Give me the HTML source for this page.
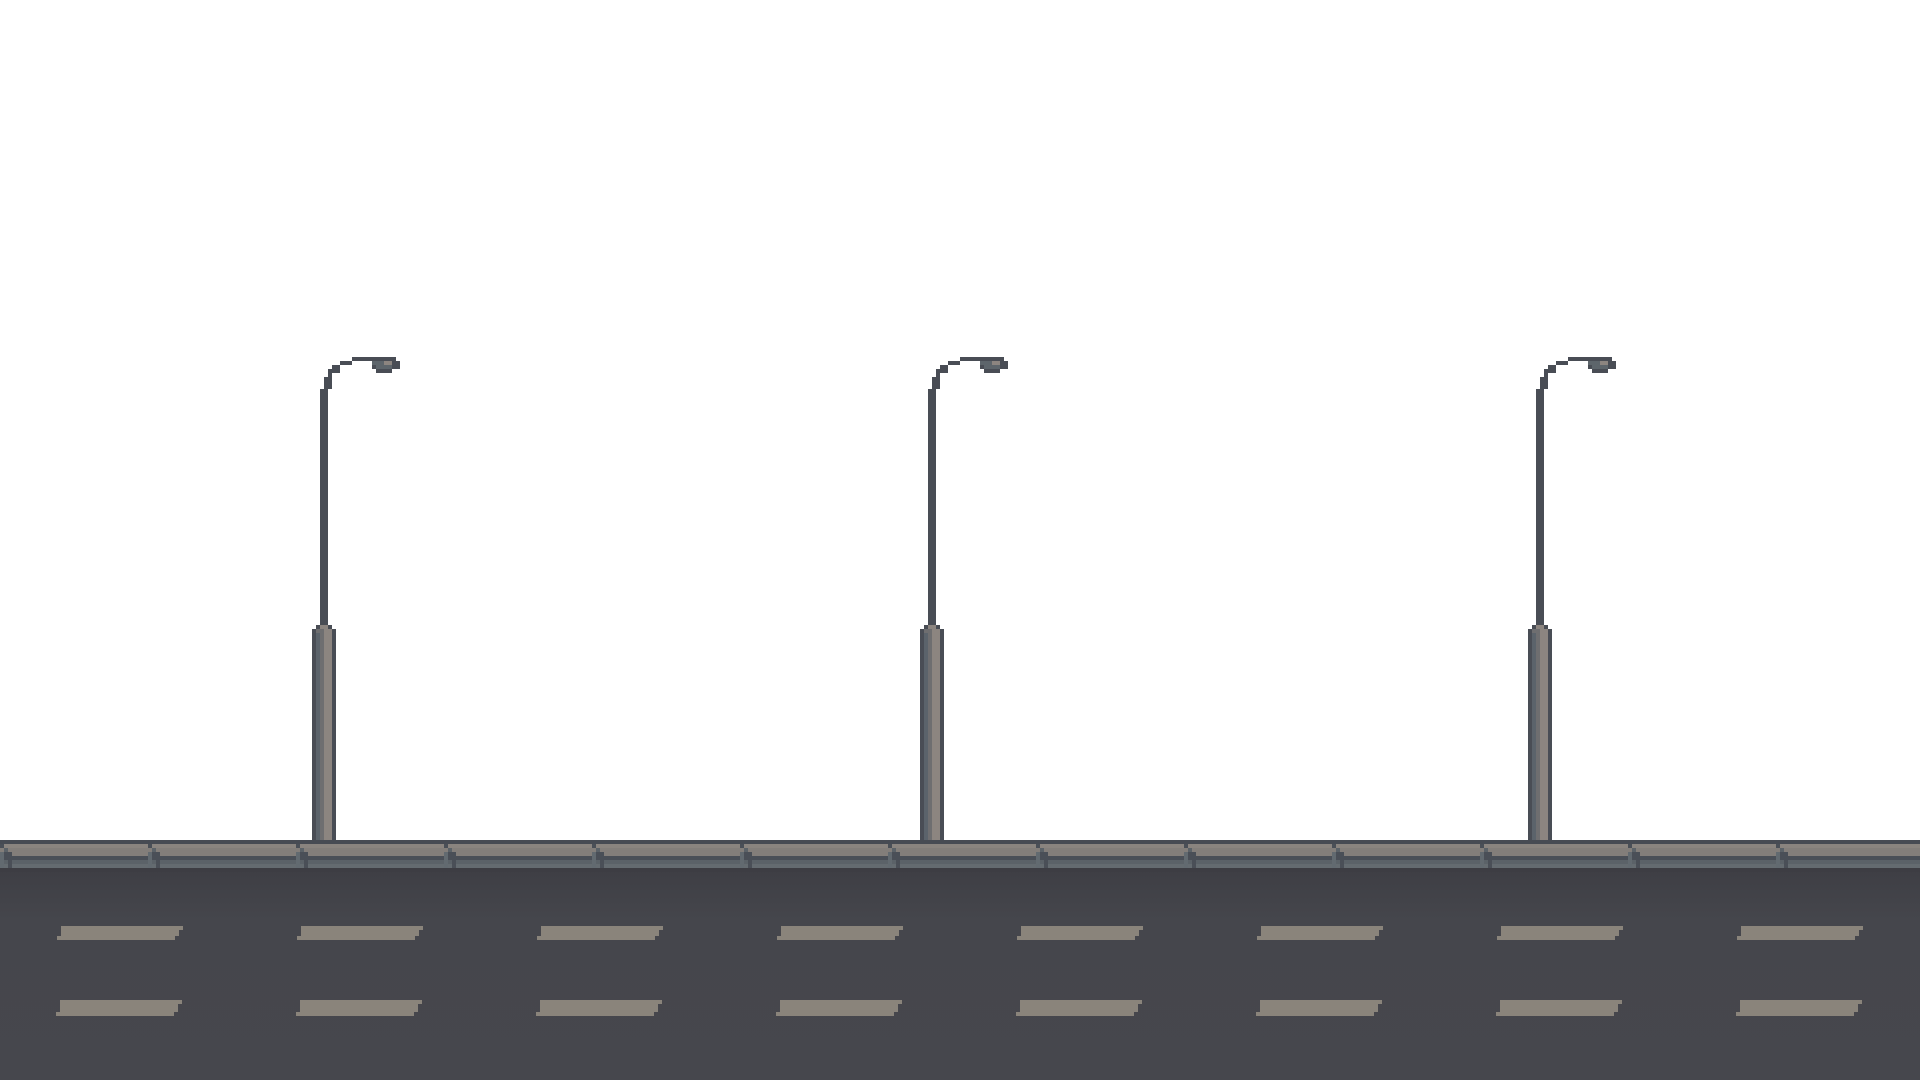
<!DOCTYPE html>
<html><head><meta charset="utf-8"><title>Street scene</title>
<style>
html,body{margin:0;padding:0;background:#fff;overflow:hidden}
svg{display:block}
</style></head>
<body>
<svg id="scene" width="1920" height="1080" viewBox="0 0 1920 1080" shape-rendering="crispEdges" xmlns="http://www.w3.org/2000/svg">
  <defs>
    <linearGradient id="road" x1="0" y1="0" x2="0" y2="1">
      <stop offset="0" stop-color="#3e3e44"/>
      <stop offset="0.25" stop-color="#45464c"/>
      <stop offset="1" stop-color="#46474d"/>
    </linearGradient>
  </defs>
  <rect x="0" y="0" width="1920" height="840" fill="#ffffff"/>
  <g id="road-group"></g>
  <g id="curb-group"></g>
  <g id="lamps"></g>
  <g id="dashes"></g>
</svg>
<script>
const lampPositions = [323, 931, 1539];
const curbJoints = [0, 148, 296, 444, 592, 740, 888, 1036, 1184, 1332, 1480, 1628, 1776];
const dashRowTop = [0, 1, 2, 3, 4, 5, 6, 7];
const dashRowBottom = [0, 1, 2, 3, 4, 5, 6, 7];

const NS = "http://www.w3.org/2000/svg";
function r(parent, x, y, w, h, fill) {
  const e = document.createElementNS(NS, "rect");
  e.setAttribute("x", x); e.setAttribute("y", y);
  e.setAttribute("width", w); e.setAttribute("height", h);
  e.setAttribute("fill", fill);
  parent.appendChild(e);
  return e;
}

// road
const roadG = document.getElementById("road-group");
const roadRect = r(roadG, 0, 868, 1920, 212, "url(#road)");



// curb
const curbG = document.getElementById("curb-group");
r(curbG, 0, 840, 1920, 4, "#474b53");
r(curbG, 0, 844, 1920, 12, "#837e7a");
r(curbG, 0, 844, 1920, 4, "#8a847f");
r(curbG, 0, 856, 1920, 4, "#4a4f57");
r(curbG, 0, 860, 1920, 4, "#5b6268");
r(curbG, 0, 864, 1920, 4, "#646b70");
r(curbG, 0, 868, 1920, 4, "#3d3d43");
curbJoints.forEach(function (jx) {
  const g = document.createElementNS(NS, "g");
  
  
  r(g, jx, 844, 4, 4, "#4a4f57");
  r(g, jx + 4, 848, 4, 4, "#5b6268");
  r(g, jx + 4, 852, 4, 4, "#4a4f57");
  r(g, jx + 8, 852, 4, 16, "#4a4f57");
  r(g, jx, 852, 4, 16, "#626a70");
  curbG.appendChild(g);
});

// lamps
const lampsG = document.getElementById("lamps");
lampPositions.forEach(function (cx) {
  const g = document.createElementNS(NS, "g");
  
  
  const px = cx - 3;
  const dark = "#494d55";
  r(g, px, 389, 8, 240, dark);
  r(g, px + 4, 377, 8, 12, dark);
  r(g, px + 8, 369, 4, 8, dark);
  r(g, px + 12, 365, 8, 8, dark);
  r(g, px + 20, 361, 12, 4, dark);
  r(g, px + 32, 357, 44, 4, dark);
  const hx = px + 52;
  r(g, hx, 361, 28, 4, dark);
  r(g, hx, 361, 20, 4, "#5d656b");
  r(g, hx + 12, 361, 8, 4, "#8c8580");
  r(g, hx, 365, 28, 4, dark);
  r(g, hx + 4, 365, 16, 4, "#5d656b");
  r(g, hx + 4, 369, 16, 4, dark);
  const bx = px - 8;
  r(g, bx + 4, 625, 16, 4, dark);
  r(g, bx + 8, 625, 8, 4, "#8c8580");
  r(g, bx, 629, 24, 211, dark);
  r(g, bx + 4, 633, 4, 207, "#5b636b");
  r(g, bx + 8, 629, 4, 211, "#6e6e70");
  r(g, bx + 12, 629, 8, 211, "#8c8580");
  r(g, bx + 4, 629, 4, 4, "#6e6e70");
  lampsG.appendChild(g);
});

// lane dashes (slanted parallelogram, stepped)
const dashesG = document.getElementById("dashes");
function dash(x, y, h) {
  const g = document.createElementNS(NS, "g");
  
  
  const c = "#8a847b";
  r(g, x + 4, y, 122, 4, c);
  r(g, x + 4, y + 4, 118, h - 8, c);
  r(g, x, y + h - 4, 118, 4, c);
  dashesG.appendChild(g);
}
dashRowTop.forEach(function (i) { dash(57 + i * 240, 926, 14); });
dashRowBottom.forEach(function (i) { dash(56 + i * 240, 1000, 16); });
</script>
</body></html>
